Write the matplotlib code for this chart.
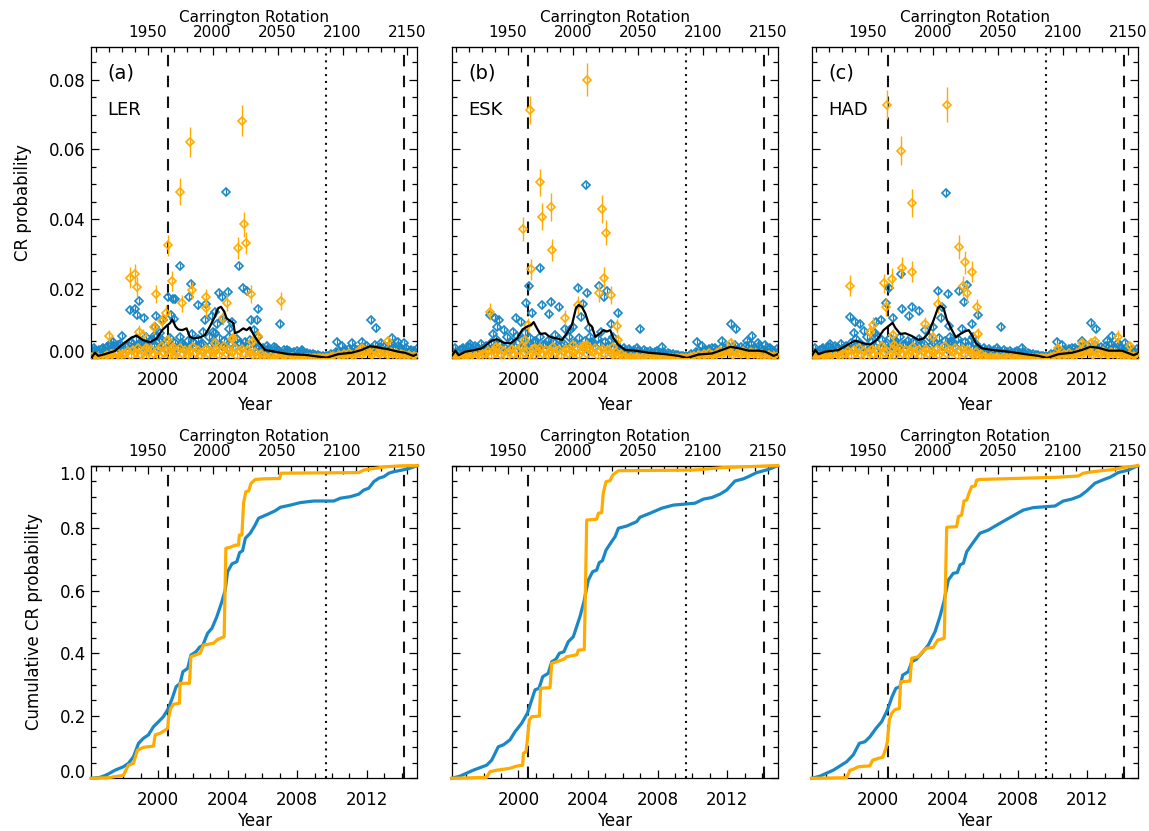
import numpy as np
import matplotlib
matplotlib.use('Agg')
import matplotlib.pyplot as plt
from matplotlib.ticker import MultipleLocator, FormatStrFormatter, FixedLocator

# ---------------- data ----------------
panel_tags = ['(a)', '(b)', '(c)']
stations = ['LER', 'ESK', 'HAD']

# low band of points, one every 2 Carrington rotations starting at CR 1907
band_blue = [0.0022, 0.0030, 0.0018, 0.0025, 0.0028, 0.0020,
             0.0032, 0.0040, 0.0026, 0.0035, 0.0030, 0.0042, 0.0028,
             0.0035, 0.0022, 0.0045, 0.0030, 0.0055, 0.0028, 0.0040, 0.0033, 0.0060, 0.0025,
             0.0048, 0.0036, 0.0065, 0.0030, 0.0052, 0.0041, 0.0027, 0.0058, 0.0035, 0.0044,
             0.0031, 0.0062, 0.0038, 0.0024, 0.0050, 0.0034, 0.0046, 0.0029, 0.0055, 0.0037,
             0.0042, 0.0026, 0.0060, 0.0039,
             0.0045, 0.0030, 0.0058, 0.0036, 0.0050, 0.0028, 0.0062, 0.0040, 0.0033, 0.0055,
             0.0042, 0.0030, 0.0048, 0.0035, 0.0052, 0.0027, 0.0040, 0.0032, 0.0025, 0.0030,
             0.0022, 0.0028, 0.0018, 0.0025, 0.0030, 0.0020, 0.0016, 0.0024, 0.0019, 0.0022,
             0.0015, 0.0018, 0.0021, 0.0014, 0.0017, 0.0012, 0.0015, 0.0011, 0.0013, 0.0009,
             0.0010, 0.0007, 0.0008, 0.0006,
             0.0008, 0.0012, 0.0010, 0.0018, 0.0022, 0.0015, 0.0025, 0.0020, 0.0028, 0.0018,
             0.0030, 0.0024, 0.0019, 0.0032, 0.0026, 0.0035, 0.0022, 0.0030, 0.0038, 0.0027,
             0.0033, 0.0025, 0.0036, 0.0029, 0.0040, 0.0031, 0.0026, 0.0034, 0.0028, 0.0022,
             0.0030, 0.0019, 0.0024, 0.0020, 0.0026]
band_orange = [0.0003, 0.0000, 0.0005, 0.0002, 0.0000, 0.0004,
               0.0010, 0.0006, 0.0012, 0.0004, 0.0015, 0.0008, 0.0011,
               0.0012, 0.0020, 0.0008, 0.0025, 0.0015, 0.0030, 0.0010, 0.0022, 0.0005, 0.0018,
               0.0028, 0.0012, 0.0020, 0.0008, 0.0035, 0.0015, 0.0022, 0.0010, 0.0027, 0.0006,
               0.0018, 0.0030, 0.0012, 0.0024, 0.0009, 0.0020, 0.0033, 0.0014, 0.0025, 0.0008,
               0.0019, 0.0028, 0.0011, 0.0022,
               0.0015, 0.0028, 0.0010, 0.0022, 0.0035, 0.0012, 0.0025, 0.0018, 0.0030, 0.0008,
               0.0020, 0.0027, 0.0012, 0.0024, 0.0015, 0.0010, 0.0018, 0.0008, 0.0012, 0.0005,
               0.0005, 0.0002, 0.0004, 0.0001, 0.0003, 0.0000, 0.0002, 0.0004, 0.0001, 0.0000,
               0.0003, 0.0001, 0.0000, 0.0002, 0.0000, 0.0001, 0.0000, 0.0002, 0.0000, 0.0001,
               0.0000, 0.0000, 0.0001, 0.0000,
               0.0002, 0.0005, 0.0008, 0.0004, 0.0010, 0.0006, 0.0012, 0.0008, 0.0015, 0.0010,
               0.0007, 0.0014, 0.0020, 0.0012, 0.0018, 0.0025, 0.0015, 0.0010, 0.0022, 0.0016,
               0.0012, 0.0020, 0.0014, 0.0009, 0.0018, 0.0012, 0.0016, 0.0008, 0.0013, 0.0010,
               0.0006, 0.0009, 0.0005, 0.0007, 0.0004]

# prominent model points [year, probability]
blue_a = [[2003.91, 0.0479], [2001.29, 0.0265], [2004.64, 0.0265], [2001.92, 0.0214],
          [2004.91, 0.0202], [2005.10, 0.0192], [2003.49, 0.0188], [2003.66, 0.0177],
          [2004.01, 0.0191], [2000.60, 0.0177], [2000.88, 0.0170], [1998.91, 0.0165],
          [2001.78, 0.0177], [2002.32, 0.0152], [2002.78, 0.0157], [1998.38, 0.0138],
          [1998.68, 0.0142], [1998.82, 0.0124], [1999.22, 0.0115], [1999.87, 0.0122],
          [2005.73, 0.0141], [2003.30, 0.0134], [2003.11, 0.0122], [2002.70, 0.0110],
          [2007.01, 0.0099], [2005.67, 0.0111], [2005.35, 0.0109], [2000.73, 0.0124],
          [2000.94, 0.0114], [1999.83, 0.0091], [2004.10, 0.0085], [2004.24, 0.0103],
          [2003.68, 0.0110], [2003.38, 0.0099], [2003.15, 0.0077], [1997.95, 0.0064],
          [1997.42, 0.0048], [1997.28, 0.0038], [1996.86, 0.0031], [1996.38, 0.0024],
          [1997.72, 0.0039], [1998.26, 0.0038], [1998.60, 0.0033], [1999.16, 0.0040],
          [1999.64, 0.0053], [2000.10, 0.0072], [2001.36, 0.0043], [2001.55, 0.0029],
          [2001.94, 0.0070], [2004.72, 0.0045], [2005.52, 0.0081], [2006.25, 0.0036],
          [2006.67, 0.0033], [2008.26, 0.0024], [2010.29, 0.0048], [2010.56, 0.0035],
          [2011.17, 0.0043], [2011.71, 0.0048], [2012.23, 0.0110], [2012.53, 0.0086],
          [2012.80, 0.0043], [2013.43, 0.0057], [2013.78, 0.0048], [2014.16, 0.0043],
          [2014.49, 0.0021], [2014.73, 0.0021], [2000.29, 0.0110], [2002.57, 0.0077],
          [2003.28, 0.0072], [2005.77, 0.0062], [2007.40, 0.0024], [2001.00, 0.0169],
          [1999.75, 0.0064], [2000.04, 0.0051], [1999.05, 0.0048], [2002.21, 0.0033]]
blue_b = [[2003.89, 0.0497], [2001.26, 0.0258], [2000.63, 0.0209], [2000.42, 0.0158],
          [2001.36, 0.0153], [2001.90, 0.0163], [2002.34, 0.0148], [2001.78, 0.0126],
          [2003.43, 0.0202], [2003.97, 0.0187], [2004.62, 0.0209], [2004.91, 0.0176],
          [2005.10, 0.0194], [2003.70, 0.0156], [2005.71, 0.0129], [2005.33, 0.0100],
          [2000.80, 0.0129], [1999.85, 0.0115], [2000.15, 0.0105], [1998.37, 0.0124],
          [1998.66, 0.0115], [1998.89, 0.0110], [1998.56, 0.0070], [1998.79, 0.0091],
          [1999.19, 0.0081], [1999.67, 0.0077], [2000.38, 0.0072], [2002.11, 0.0067],
          [2002.68, 0.0083], [2002.97, 0.0081], [2004.08, 0.0086], [2004.18, 0.0048],
          [2004.73, 0.0077], [2007.01, 0.0084], [2008.24, 0.0033], [2010.29, 0.0048],
          [2010.58, 0.0035], [2011.15, 0.0031], [2011.69, 0.0050], [2012.20, 0.0100],
          [2012.51, 0.0084], [2013.16, 0.0050], [2013.41, 0.0064], [2013.79, 0.0043],
          [2014.18, 0.0038], [2014.46, 0.0031], [1996.84, 0.0029], [1997.22, 0.0033],
          [1997.70, 0.0029], [2003.15, 0.0090], [2003.60, 0.0120], [2005.45, 0.0060],
          [2001.55, 0.0040], [2000.95, 0.0050]]
blue_c = [[2003.89, 0.0476], [2001.30, 0.0241], [2000.61, 0.0203], [2000.46, 0.0158],
          [2001.38, 0.0141], [2001.92, 0.0148], [2001.78, 0.0122], [2002.36, 0.0137],
          [2003.43, 0.0194], [2003.98, 0.0184], [2004.63, 0.0194], [2005.11, 0.0212],
          [2004.92, 0.0163], [2003.68, 0.0146], [2005.71, 0.0124], [2005.36, 0.0098],
          [2000.82, 0.0115], [1999.86, 0.0103], [2000.15, 0.0110], [1998.37, 0.0119],
          [1998.66, 0.0103], [1998.95, 0.0098], [1998.62, 0.0073], [1999.19, 0.0079],
          [1999.81, 0.0073], [2002.68, 0.0081], [2004.08, 0.0093], [2004.18, 0.0050],
          [2004.79, 0.0084], [2007.03, 0.0089], [2008.24, 0.0031], [2010.29, 0.0048],
          [2010.58, 0.0038], [2011.15, 0.0031], [2011.72, 0.0050], [2012.20, 0.0102],
          [2012.51, 0.0084], [2013.16, 0.0050], [2013.41, 0.0064], [2013.79, 0.0043],
          [2014.18, 0.0043], [1996.84, 0.0029], [1997.22, 0.0033], [1997.70, 0.0029],
          [2003.15, 0.0090], [2003.60, 0.0115], [2005.45, 0.0060], [2001.55, 0.0040],
          [2000.95, 0.0050]]

# observed points [year, probability, error]
orange_a = [[2004.85, 0.0683, 0.0045], [2001.86, 0.0621, 0.0042], [2001.29, 0.0479, 0.0040],
            [2000.60, 0.0325, 0.0030], [2004.93, 0.0385, 0.0036], [2005.08, 0.0332, 0.0032],
            [2004.62, 0.0317, 0.0031], [1998.38, 0.0232, 0.0030], [1998.68, 0.0242, 0.0030],
            [1998.82, 0.0205, 0.0028], [2000.79, 0.0222, 0.0028], [1999.87, 0.0185, 0.0027],
            [2001.98, 0.0195, 0.0025], [2001.36, 0.0158, 0.0025], [2002.76, 0.0175, 0.0025],
            [2002.74, 0.0144, 0.0024], [2003.97, 0.0160, 0.0025], [2005.37, 0.0185, 0.0025],
            [2007.05, 0.0165, 0.0025], [2000.44, 0.0131, 0.0022], [2000.25, 0.0108, 0.0020],
            [1997.19, 0.0064, 0.0018], [1998.91, 0.0077, 0.0018], [1999.14, 0.0066, 0.0017],
            [1999.79, 0.0089, 0.0018], [2003.72, 0.0115, 0.0020], [2000.60, 0.0052, 0.0015],
            [2000.87, 0.0033, 0.0012], [2004.24, 0.0055, 0.0015], [2003.28, 0.0043, 0.0014],
            [2005.39, 0.0048, 0.0015], [2005.77, 0.0064, 0.0016], [2013.20, 0.0050, 0.0015],
            [2011.71, 0.0030, 0.0012], [1999.33, 0.0029, 0.0012], [2004.33, 0.0057, 0.0015]]
orange_b = [[2003.95, 0.0800, 0.0047], [2000.67, 0.0714, 0.0040], [2001.26, 0.0505, 0.0040],
            [2001.90, 0.0435, 0.0040], [2001.36, 0.0407, 0.0038], [2004.83, 0.0428, 0.0040],
            [2005.06, 0.0361, 0.0035], [2000.29, 0.0372, 0.0035], [2001.95, 0.0311, 0.0032],
            [2000.73, 0.0256, 0.0030], [2004.94, 0.0232, 0.0030], [2004.66, 0.0188, 0.0027],
            [2005.35, 0.0182, 0.0027], [1998.37, 0.0134, 0.0025], [2003.43, 0.0153, 0.0025],
            [2002.68, 0.0117, 0.0022], [2005.65, 0.0093, 0.0020], [2000.38, 0.0052, 0.0015],
            [2003.16, 0.0038, 0.0013], [2003.73, 0.0035, 0.0013], [2005.75, 0.0054, 0.0015],
            [2005.46, 0.0033, 0.0012], [2000.96, 0.0029, 0.0012], [2012.22, 0.0043, 0.0014],
            [2000.58, 0.0095, 0.0020], [1998.73, 0.0033, 0.0013], [2003.96, 0.0038, 0.0013]]
orange_c = [[2000.50, 0.0728, 0.0042], [2003.94, 0.0728, 0.0050], [2001.28, 0.0596, 0.0042],
            [2001.95, 0.0445, 0.0040], [2004.63, 0.0319, 0.0035], [2004.96, 0.0276, 0.0033],
            [2005.40, 0.0249, 0.0030], [2001.38, 0.0260, 0.0030], [2001.92, 0.0249, 0.0030],
            [2000.77, 0.0228, 0.0030], [2000.33, 0.0215, 0.0028], [1998.37, 0.0208, 0.0030],
            [2004.88, 0.0208, 0.0028], [2005.08, 0.0187, 0.0028], [2000.44, 0.0148, 0.0025],
            [2003.41, 0.0156, 0.0025], [2005.67, 0.0146, 0.0025], [2002.68, 0.0098, 0.0022],
            [2003.14, 0.0062, 0.0017], [1999.69, 0.0096, 0.0022], [2005.75, 0.0070, 0.0018],
            [2000.86, 0.0067, 0.0018], [2000.92, 0.0038, 0.0013], [2013.76, 0.0062, 0.0018],
            [2014.46, 0.0035, 0.0012], [2010.34, 0.0029, 0.0012], [2011.69, 0.0043, 0.0014],
            [2012.22, 0.0045, 0.0014], [2012.45, 0.0050, 0.0015], [1999.52, 0.0077, 0.0018]]

# running mean (black) [year, probability]
black_a = [[1996.15, 0.0000], [1996.38, 0.0016], [1996.57, 0.0007], [1996.95, 0.0012],
           [1997.52, 0.0021], [1997.91, 0.0038], [1998.48, 0.0060], [1998.77, 0.0065],
           [1999.15, 0.0052], [1999.54, 0.0046], [1999.92, 0.0057], [2000.24, 0.0081],
           [2000.49, 0.0093], [2000.69, 0.0101], [2000.82, 0.0112], [2001.01, 0.0091],
           [2001.16, 0.0083], [2001.39, 0.0081], [2001.64, 0.0086], [2001.83, 0.0062],
           [2002.03, 0.0057], [2002.41, 0.0060], [2002.70, 0.0067], [2002.98, 0.0091],
           [2003.27, 0.0120], [2003.46, 0.0144], [2003.62, 0.0148], [2003.81, 0.0134],
           [2003.94, 0.0115], [2004.13, 0.0108], [2004.33, 0.0101], [2004.42, 0.0072],
           [2004.65, 0.0077], [2004.90, 0.0086], [2005.09, 0.0081], [2005.28, 0.0089],
           [2005.47, 0.0070], [2005.76, 0.0048], [2006.15, 0.0024], [2006.72, 0.0019],
           [2007.49, 0.0012], [2008.44, 0.0010], [2009.21, 0.0005], [2009.69, 0.0002],
           [2010.36, 0.0012], [2011.13, 0.0016], [2011.70, 0.0024], [2012.18, 0.0035],
           [2012.66, 0.0031], [2013.23, 0.0026], [2013.81, 0.0019], [2014.19, 0.0016],
           [2014.67, 0.0007], [2014.90, 0.0012]]
black_b = [[1996.15, 0.0005], [1996.38, 0.0022], [1996.57, 0.0009], [1996.95, 0.0019],
           [1997.52, 0.0024], [1997.91, 0.0029], [1998.48, 0.0051], [1998.77, 0.0055],
           [1999.15, 0.0045], [1999.54, 0.0043], [1999.92, 0.0057], [2000.24, 0.0083],
           [2000.49, 0.0091], [2000.74, 0.0096], [2000.88, 0.0104], [2001.07, 0.0086],
           [2001.26, 0.0070], [2001.55, 0.0072], [2001.74, 0.0064], [2001.93, 0.0060],
           [2002.22, 0.0057], [2002.51, 0.0053], [2002.79, 0.0072], [2003.08, 0.0096],
           [2003.31, 0.0144], [2003.46, 0.0153], [2003.65, 0.0148], [2003.85, 0.0129],
           [2004.04, 0.0100], [2004.23, 0.0091], [2004.42, 0.0062], [2004.65, 0.0070],
           [2004.90, 0.0081], [2005.09, 0.0077], [2005.28, 0.0081], [2005.47, 0.0057],
           [2005.76, 0.0038], [2006.15, 0.0024], [2006.72, 0.0022], [2007.49, 0.0016],
           [2008.44, 0.0012], [2009.21, 0.0007], [2009.69, 0.0001], [2010.36, 0.0011],
           [2011.13, 0.0014], [2011.70, 0.0024], [2012.18, 0.0033], [2012.66, 0.0029],
           [2013.23, 0.0022], [2013.81, 0.0022], [2014.19, 0.0019], [2014.67, 0.0007],
           [2014.90, 0.0012]]
black_c = [[1996.15, 0.0005], [1996.38, 0.0024], [1996.57, 0.0012], [1996.95, 0.0019],
           [1997.72, 0.0024], [1998.20, 0.0038], [1998.67, 0.0051], [1999.15, 0.0043],
           [1999.54, 0.0040], [1999.92, 0.0053], [2000.30, 0.0081], [2000.55, 0.0091],
           [2000.82, 0.0102], [2000.97, 0.0088], [2001.26, 0.0070], [2001.55, 0.0072],
           [2001.93, 0.0064], [2002.31, 0.0053], [2002.60, 0.0057], [2002.89, 0.0074],
           [2003.18, 0.0110], [2003.42, 0.0144], [2003.56, 0.0150], [2003.75, 0.0144],
           [2003.94, 0.0110], [2004.23, 0.0081], [2004.46, 0.0060], [2004.71, 0.0070],
           [2004.96, 0.0077], [2005.19, 0.0081], [2005.38, 0.0067], [2005.61, 0.0043],
           [2005.95, 0.0029], [2006.53, 0.0024], [2007.49, 0.0019], [2008.44, 0.0012],
           [2009.21, 0.0007], [2009.69, 0.0001], [2010.36, 0.0012], [2011.13, 0.0016],
           [2011.70, 0.0024], [2012.18, 0.0033], [2012.66, 0.0030], [2013.23, 0.0022],
           [2014.00, 0.0022], [2014.67, 0.0009], [2014.90, 0.0014]]

# cumulative probability [year, value]
cum_blue_a = [[1996.17, 0.000], [1996.67, 0.003], [1997.05, 0.011], [1997.53, 0.026], [1998.01, 0.037],
              [1998.30, 0.048], [1998.59, 0.069], [1998.88, 0.112], [1999.16, 0.128], [1999.45, 0.139],
              [1999.74, 0.165], [2000.03, 0.181], [2000.31, 0.197], [2000.60, 0.224], [2000.85, 0.261],
              [2001.04, 0.293], [2001.27, 0.304], [2001.43, 0.341], [2001.71, 0.352], [2001.89, 0.394],
              [2002.19, 0.405], [2002.38, 0.419], [2002.58, 0.426], [2002.85, 0.464], [2003.10, 0.480],
              [2003.38, 0.517], [2003.67, 0.565], [2003.86, 0.602], [2004.00, 0.661], [2004.25, 0.686],
              [2004.53, 0.693], [2004.69, 0.722], [2004.86, 0.728], [2005.02, 0.768], [2005.30, 0.784],
              [2005.55, 0.807], [2005.78, 0.832], [2006.07, 0.839], [2006.36, 0.846], [2006.74, 0.856],
              [2007.03, 0.867], [2007.61, 0.874], [2008.18, 0.882], [2008.95, 0.887], [2010.10, 0.887],
              [2010.48, 0.896], [2011.06, 0.901], [2011.54, 0.909], [2011.82, 0.922], [2012.11, 0.928],
              [2012.40, 0.949], [2012.69, 0.960], [2012.98, 0.965], [2013.26, 0.976], [2013.55, 0.981],
              [2014.03, 0.986], [2014.42, 0.991], [2014.90, 1.000]]
cum_orange_a = [[1996.17, 0.000], [1997.15, 0.002], [1998.01, 0.0095], [1998.30, 0.042], [1998.59, 0.048],
                [1998.82, 0.090], [1999.16, 0.099], [1999.74, 0.103], [1999.84, 0.139], [2000.12, 0.144],
                [2000.41, 0.154], [2000.56, 0.160], [2000.60, 0.192], [2000.73, 0.224], [2000.89, 0.237],
                [2001.23, 0.240], [2001.27, 0.304], [2001.81, 0.304], [2001.89, 0.389], [2002.13, 0.394],
                [2002.42, 0.400], [2002.61, 0.426], [2003.19, 0.432], [2003.42, 0.444], [2003.80, 0.453],
                [2003.90, 0.736], [2004.15, 0.739], [2004.44, 0.746], [2004.63, 0.746], [2004.67, 0.778],
                [2004.82, 0.778], [2004.92, 0.882], [2005.05, 0.917], [2005.21, 0.919], [2005.34, 0.943],
                [2005.59, 0.956], [2006.07, 0.958], [2006.99, 0.959], [2007.07, 0.976], [2011.54, 0.978],
                [2011.82, 0.986], [2012.40, 0.991], [2013.17, 0.997], [2014.13, 1.000], [2014.90, 1.000]]
cum_blue_b = [[1996.17, 0.000], [1996.65, 0.007], [1997.41, 0.026], [1998.18, 0.042], [1998.47, 0.058],
              [1998.85, 0.101], [1999.14, 0.107], [1999.52, 0.123], [1999.81, 0.149], [2000.19, 0.176],
              [2000.52, 0.208], [2000.77, 0.251], [2000.96, 0.283], [2001.19, 0.288], [2001.40, 0.325],
              [2001.72, 0.336], [2001.92, 0.373], [2002.16, 0.381], [2002.36, 0.400], [2002.62, 0.405],
              [2002.87, 0.437], [2003.16, 0.453], [2003.54, 0.517], [2003.77, 0.565], [2004.02, 0.634],
              [2004.27, 0.661], [2004.50, 0.666], [2004.65, 0.690], [2004.83, 0.696], [2005.04, 0.730],
              [2005.36, 0.757], [2005.56, 0.773], [2005.75, 0.800], [2006.23, 0.807], [2006.80, 0.821],
              [2006.99, 0.835], [2007.57, 0.848], [2008.24, 0.864], [2008.91, 0.874], [2010.15, 0.880],
              [2010.63, 0.893], [2011.11, 0.898], [2011.59, 0.909], [2011.97, 0.922], [2012.45, 0.951],
              [2012.93, 0.958], [2013.22, 0.965], [2013.70, 0.978], [2014.37, 0.988], [2014.90, 1.000]]
cum_orange_b = [[1996.17, 0.000], [1998.18, 0.003], [1998.37, 0.021], [1998.76, 0.026], [1999.52, 0.032],
                [1999.90, 0.039], [2000.25, 0.042], [2000.29, 0.080], [2000.44, 0.085], [2000.52, 0.123],
                [2000.63, 0.186], [2000.77, 0.197], [2001.21, 0.199], [2001.28, 0.288], [2001.82, 0.290],
                [2001.92, 0.368], [2002.20, 0.373], [2002.62, 0.381], [2002.78, 0.389], [2003.35, 0.395],
                [2003.45, 0.410], [2003.79, 0.412], [2003.93, 0.826], [2004.50, 0.829], [2004.60, 0.848],
                [2004.79, 0.850], [2004.88, 0.912], [2005.04, 0.949], [2005.27, 0.952], [2005.42, 0.970],
                [2005.75, 0.984], [2010.06, 0.986], [2011.78, 0.994], [2014.65, 1.000], [2014.90, 1.000]]
cum_blue_c = [[1996.17, 0.000], [1996.65, 0.007], [1997.41, 0.026], [1998.18, 0.053], [1998.56, 0.075],
              [1998.91, 0.112], [1999.23, 0.117], [1999.52, 0.133], [1999.87, 0.160], [2000.19, 0.181],
              [2000.52, 0.218], [2000.79, 0.261], [2001.01, 0.288], [2001.25, 0.293], [2001.40, 0.330],
              [2001.72, 0.341], [2001.92, 0.373], [2002.20, 0.381], [2002.49, 0.400], [2002.87, 0.426],
              [2003.26, 0.469], [2003.54, 0.517], [2003.77, 0.565], [2004.02, 0.634], [2004.31, 0.656],
              [2004.54, 0.658], [2004.70, 0.683], [2004.89, 0.688], [2005.08, 0.725], [2005.42, 0.752],
              [2005.84, 0.784], [2006.32, 0.794], [2006.90, 0.813], [2007.66, 0.837], [2008.33, 0.858],
              [2008.91, 0.866], [2010.15, 0.871], [2010.63, 0.887], [2011.11, 0.893], [2011.59, 0.903],
              [2011.97, 0.919], [2012.45, 0.944], [2012.97, 0.956], [2013.31, 0.963], [2013.79, 0.978],
              [2014.37, 0.986], [2014.90, 1.000]]
cum_orange_c = [[1996.17, 0.000], [1998.18, 0.002], [1998.37, 0.026], [1998.56, 0.029], [1998.85, 0.037],
                [1999.52, 0.040], [1999.67, 0.058], [2000.00, 0.064], [2000.25, 0.067], [2000.44, 0.096],
                [2000.52, 0.117], [2000.63, 0.186], [2000.77, 0.208], [2000.96, 0.220], [2001.21, 0.223],
                [2001.28, 0.309], [2001.82, 0.311], [2001.92, 0.384], [2002.30, 0.389], [2002.49, 0.402],
                [2002.78, 0.416], [2003.16, 0.419], [2003.41, 0.442], [2003.79, 0.448], [2003.93, 0.803],
                [2004.50, 0.805], [2004.60, 0.837], [2004.79, 0.842], [2004.92, 0.887], [2005.08, 0.890],
                [2005.17, 0.906], [2005.36, 0.933], [2005.56, 0.935], [2005.65, 0.954], [2005.84, 0.956],
                [2010.25, 0.963], [2011.49, 0.967], [2011.78, 0.976], [2012.36, 0.981], [2013.51, 0.988],
                [2014.18, 0.995], [2014.90, 1.000]]

# reference epochs (years)
dashed_years = [2000.55, 2014.12]
dotted_year = 2009.65
cr_ticks = [1950, 2000, 2050, 2100, 2150]

# ---------------- plotting ----------------
BLUE = '#1a88c6'
ORANGE = '#ffab00'


def yr2cr(y):
    return 1950 + (np.asarray(y, dtype=float) - 1999.40) / 0.074676


def cr2yr(c):
    return 1999.40 + (np.asarray(c, dtype=float) - 1950) * 0.074676


band_cr = 1907 + 2 * np.arange(len(band_blue))
band_yr = cr2yr(band_cr)

plt.rcParams['font.family'] = 'DejaVu Sans'
fig = plt.figure(figsize=(11.49, 8.31), dpi=100)

lefts = [0.0795, 0.3931, 0.7064]
width = 0.2837


def frame(ax, ylabels, xlabpad):
    ax.set_xlim(1996.17, 2014.90)
    ax.xaxis.set_major_locator(MultipleLocator(4))
    ax.xaxis.set_minor_locator(MultipleLocator(1))
    ax.tick_params(which='both', direction='in', top=False, right=True, labelsize=12)
    ax.tick_params(which='major', length=6, width=0.9)
    ax.tick_params(which='minor', length=3.5, width=0.9)
    ax.tick_params(axis='x', pad=9)
    ax.tick_params(axis='y', pad=4)
    if not ylabels:
        ax.tick_params(axis='y', labelleft=False)
    for s in ax.spines.values():
        s.set_linewidth(0.9)
    ax.set_xlabel('Year', fontsize=12, labelpad=xlabpad)
    sec = ax.secondary_xaxis('top', functions=(yr2cr, cr2yr))
    sec.xaxis.set_major_locator(FixedLocator(cr_ticks))
    sec.xaxis.set_minor_locator(FixedLocator(list(range(1910, 2160, 10))))
    sec.tick_params(which='both', direction='in', labelsize=11, pad=5)
    sec.tick_params(which='major', length=6, width=0.9)
    sec.tick_params(which='minor', length=3.5, width=0.9)
    sec.set_xlabel('Carrington Rotation', fontsize=11, labelpad=2)
    for x in dashed_years:
        ax.axvline(x, color='#111111', lw=1.5, dashes=(5.5, 4.5), zorder=1)
    ax.axvline(dotted_year, color='#111111', lw=1.5, dashes=(1, 2.3), zorder=1)


blues = [blue_a, blue_b, blue_c]
oranges = [orange_a, orange_b, orange_c]
blacks = [black_a, black_b, black_c]
cum_blues = [cum_blue_a, cum_blue_b, cum_blue_c]
cum_oranges = [cum_orange_a, cum_orange_b, cum_orange_c]

for i in range(3):
    # ---- top row: probability per rotation ----
    ax = fig.add_axes([lefts[i], 0.5688, width, 0.3750])
    frame(ax, i == 0, 5)
    ax.set_ylim(0, 0.0895)
    ax.set_yticks([0.0, 0.02, 0.04, 0.06, 0.08])
    ax.yaxis.set_minor_locator(MultipleLocator(0.005))
    ax.yaxis.set_major_formatter(FormatStrFormatter('%.2f'))
    if i == 0:
        ax.set_ylabel('CR probability', fontsize=12, labelpad=12)
        ax.yaxis.get_major_ticks()[0].label1.set_verticalalignment('baseline')

    ax.errorbar(band_yr, band_blue, yerr=0.0009, fmt='D', ms=4.5, mfc='none', mec=BLUE,
                mew=1.2, ecolor=BLUE, elinewidth=0.9, capsize=0, zorder=2)
    b = np.array(blues[i])
    ax.errorbar(b[:, 0], b[:, 1], yerr=0.0009, fmt='D', ms=4.5, mfc='none', mec=BLUE,
                mew=1.2, ecolor=BLUE, elinewidth=0.9, capsize=0, zorder=2)
    ax.errorbar(band_yr, band_orange, yerr=0.0006, fmt='D', ms=4.5, mfc='none', mec=ORANGE,
                mew=1.2, ecolor=ORANGE, elinewidth=0.9, capsize=0, zorder=3)
    o = np.array(oranges[i])
    ax.errorbar(o[:, 0], o[:, 1], yerr=o[:, 2], fmt='D', ms=4.5, mfc='none', mec=ORANGE,
                mew=1.2, ecolor=ORANGE, elinewidth=1.0, capsize=0, zorder=3)
    k = np.array(blacks[i])
    ax.plot(k[:, 0], k[:, 1], color='black', lw=1.6, zorder=4)

    ax.text(0.05, 0.945, panel_tags[i], transform=ax.transAxes, fontsize=14, va='top')
    ax.text(0.05, 0.825, stations[i], transform=ax.transAxes, fontsize=13, va='top')

    # ---- bottom row: cumulative probability ----
    ax2 = fig.add_axes([lefts[i], 0.0634, width, 0.3762])
    frame(ax2, i == 0, 2)
    ax2.set_ylim(0, 1.0)
    ax2.set_yticks([0.0, 0.2, 0.4, 0.6, 0.8, 1.0])
    ax2.yaxis.set_minor_locator(MultipleLocator(0.05))
    ax2.yaxis.set_major_formatter(FormatStrFormatter('%.1f'))
    if i == 0:
        ax2.set_ylabel('Cumulative CR probability', fontsize=12, labelpad=12)
        ax2.yaxis.get_major_ticks()[0].label1.set_verticalalignment('baseline')
        ax2.yaxis.get_major_ticks()[-1].label1.set_verticalalignment('top')
    cb = np.array(cum_blues[i])
    co = np.array(cum_oranges[i])
    ax2.plot(cb[:, 0], cb[:, 1], color=BLUE, lw=2.3, zorder=3, clip_on=False)
    ax2.plot(co[:, 0], co[:, 1], color=ORANGE, lw=2.3, zorder=3, clip_on=False)

fig.savefig('out.png', dpi=100)
